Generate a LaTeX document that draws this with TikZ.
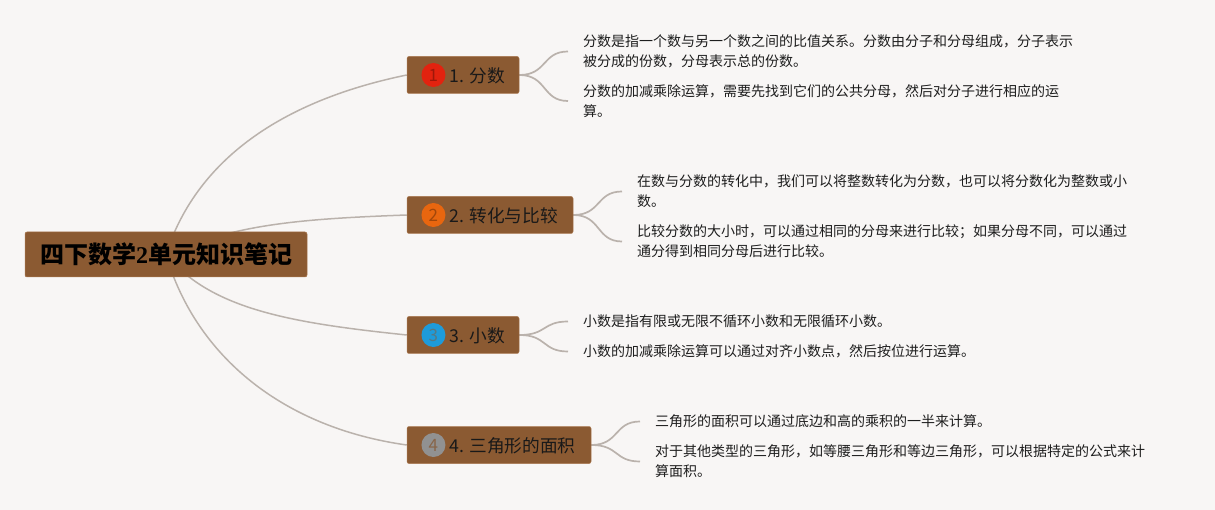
\documentclass[tikz,border=0pt]{standalone}
\usepackage{fontspec}
\setmainfont{Noto Sans CJK SC}
\newfontfamily\numfont{Liberation Serif}
\usetikzlibrary{positioning, backgrounds}
\definecolor{paper}{RGB}{248,246,245}
\definecolor{bark}{RGB}{139,90,50}
\definecolor{barkline}{RGB}{170,120,80}
\definecolor{twig}{RGB}{186,178,172}
\definecolor{ink}{RGB}{30,30,30}
\definecolor{redb}{RGB}{226,35,15}
\definecolor{orangeb}{RGB}{232,102,15}
\definecolor{blueb}{RGB}{30,155,218}
\definecolor{grayb}{RGB}{145,145,145}

\begin{document}
\begin{tikzpicture}[x=1pt, y=-1pt,
  root/.style={rounded corners=2pt, fill=bark, draw=barkline, line width=0.5pt, minimum width=282pt, minimum height=45pt, inner sep=0pt, font=\fontsize{24}{28}\selectfont\bfseries, text=black},
  topic/.style={rounded corners=2pt, fill=bark, draw=barkline, line width=0.5pt, minimum height=37pt, inner sep=0pt},
  lab/.style={inner sep=0pt, yshift=-1pt, font=\fontsize{17.7}{20}\selectfont, text=black!90},
  badge/.style={circle, minimum size=24pt, inner sep=0pt, font=\fontsize{17}{20}\selectfont},
  leaf/.style={anchor=west, align=left, inner xsep=15pt, inner ysep=0pt, font=\fontsize{14}{20}\selectfont, text=ink},
  trunk/.style={draw=twig, line width=1.5pt},
  twiglink/.style={draw=twig, line width=1.7pt}]

\useasboundingbox (0,0) rectangle (1215,510);

\node[root] at (166,254.5) (root) {四下数学{\numfont 2}单元知识笔记};

\node[topic, minimum width=112pt] at (463,75) (n1) {};
\node[badge, fill=redb, text=redb!70!black, right=14.5pt of n1.west] (b1) {1};
\node[lab, right=3.5pt of b1] (t1) {1. 分数};

\node[topic, minimum width=166pt] at (490,215) (n2) {};
\node[badge, fill=orangeb, text=orangeb!70!black, right=14.5pt of n2.west] (b2) {2};
\node[lab, right=3.5pt of b2] (t2) {2. 转化与比较};

\node[topic, minimum width=112pt] at (463,335) (n3) {};
\node[badge, fill=blueb, text=blueb!50!bark, right=14.5pt of n3.west] (b3) {3};
\node[lab, right=3.5pt of b3] (t3) {3. 小数};

\node[topic, minimum width=184pt] at (499,445) (n4) {};
\node[badge, fill=grayb, text=bark!70!gray, right=14.5pt of n4.west] (b4) {4};
\node[lab, right=3.5pt of b4] (t4) {4. 三角形的面积};

\node[leaf] at (568,51.5) (l11) {分数是指一个数与另一个数之间的比值关系。分数由分子和分母组成，分子表示\\被分成的份数，分母表示总的份数。};
\node[leaf] at (568,101) (l12) {分数的加减乘除运算，需要先找到它们的公共分母，然后对分子进行相应的运\\算。};
\node[leaf] at (622,191.5) (l21) {在数与分数的转化中，我们可以将整数转化为分数，也可以将分数化为整数或小\\数。};
\node[leaf] at (622,241.5) (l22) {比较分数的大小时，可以通过相同的分母来进行比较；如果分母不同，可以通过\\通分得到相同分母后进行比较。};
\node[leaf] at (568,321.5) (l31) {小数是指有限或无限不循环小数和无限循环小数。};
\node[leaf] at (568,351.5) (l32) {小数的加减乘除运算可以通过对齐小数点，然后按位进行运算。};
\node[leaf] at (640,421.5) (l41) {三角形的面积可以通过底边和高的乘积的一半来计算。};
\node[leaf] at (640,461.5) (l42) {对于其他类型的三角形，如等腰三角形和等边三角形，可以根据特定的公式来计\\算面积。};

\begin{scope}[on background layer]
\fill[paper] (0,0) rectangle (1215,510);
\draw[trunk] (root.center) .. controls +(32,-100) and +(-117,24) .. (n1.west);
\draw[trunk] (root.center) .. controls +(70,-30) and +(-110,4) .. (n2.west);
\draw[trunk] (root.center) .. controls +(45,55) and +(-115,-12) .. (n3.west);
\draw[trunk] (root.center) .. controls +(30,103) and +(-122,-17) .. (n4.west);
\draw[twiglink] (n1.east) .. controls +(28,0) and +(-26,0) .. (l11.west);
\draw[twiglink] (n1.east) .. controls +(28,0) and +(-26,0) .. (l12.west);
\draw[twiglink] (n2.east) .. controls +(28,0) and +(-26,0) .. (l21.west);
\draw[twiglink] (n2.east) .. controls +(28,0) and +(-26,0) .. (l22.west);
\draw[twiglink] (n3.east) .. controls +(28,0) and +(-26,0) .. (l31.west);
\draw[twiglink] (n3.east) .. controls +(28,0) and +(-26,0) .. (l32.west);
\draw[twiglink] (n4.east) .. controls +(28,0) and +(-26,0) .. (l41.west);
\draw[twiglink] (n4.east) .. controls +(28,0) and +(-26,0) .. (l42.west);
\end{scope}
\end{tikzpicture}
\end{document}
